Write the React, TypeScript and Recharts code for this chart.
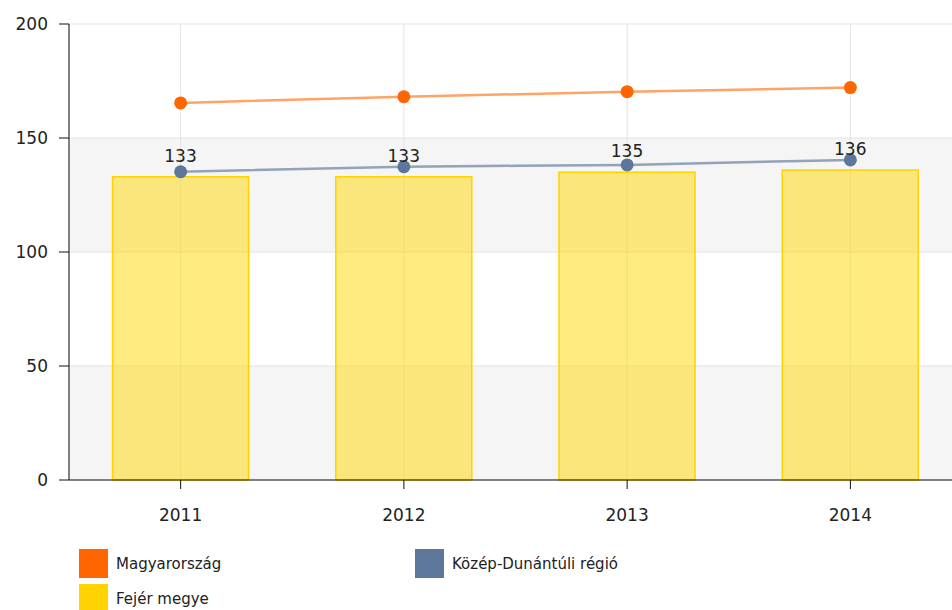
import React from "react";
import {
  ComposedChart,
  Bar,
  Line,
  XAxis,
  YAxis,
  CartesianGrid,
  LabelList,
} from "recharts";

// years on the x axis
const years = ["2011", "2012", "2013", "2014"];

// series values
const magyarorszag = [165.4, 168.1, 170.3, 172.1];
const kozepDunantul = [135.2, 137.4, 138.2, 140.4];
const fejerMegye = [133, 133, 135, 136];

const yTicks = [0, 50, 100, 150, 200];

const data = years.map((year, i) => ({
  year,
  magyarorszag: magyarorszag[i],
  kozep: kozepDunantul[i],
  fejer: fejerMegye[i],
}));

const FONT = "'DejaVu Sans', Verdana, sans-serif";

const legendItems = [
  { name: "Magyarország", color: "#ff6600", left: 79, top: 549 },
  { name: "Közép-Dunántúli régió", color: "#5c7799", left: 415, top: 549 },
  { name: "Fejér megye", color: "#ffd200", left: 79, top: 584 },
];

const ChartLegend = () => (
  <>
    {legendItems.map((item) => (
      <div
        key={item.name}
        style={{
          position: "absolute",
          left: item.left,
          top: item.top,
          display: "flex",
          alignItems: "center",
          fontFamily: FONT,
          fontSize: 15,
          color: "#222",
        }}
      >
        <span
          style={{
            display: "inline-block",
            width: 29,
            height: 29,
            background: item.color,
            marginRight: 8,
          }}
        />
        {item.name}
      </div>
    ))}
  </>
);

export default function App() {
  return (
    <div
      style={{
        position: "absolute",
        left: 0,
        top: 0,
        width: 952,
        height: 610,
        overflow: "hidden",
        background: "#fff",
      }}
    >
      <ComposedChart
        width={962}
        height={530}
        data={data}
        margin={{ top: 24, right: 0, left: 0, bottom: 0 }}
        barCategoryGap="19.5%"
        style={{ fontFamily: FONT }}
      >
        <CartesianGrid
          stroke="#e3e3e3"
          horizontalFill={["#ffffff", "#f5f5f5"]}
        />
        <XAxis
          dataKey="year"
          height={50}
          stroke="#111"
          tickSize={9}
          tickMargin={20}
          tick={{ fill: "#222", fontSize: 17 }}
        />
        <YAxis
          width={69}
          domain={[0, 200]}
          ticks={yTicks}
          stroke="#111"
          tickSize={10}
          tickMargin={11}
          tick={{ fill: "#222", fontSize: 17 }}
        />
        <Bar
          dataKey="fejer"
          name="Fejér megye"
          fill="#ffd700"
          fillOpacity={0.5}
          stroke="#ffd200"
          strokeWidth={1.5}
          isAnimationActive={false}
        >
          <LabelList
            dataKey="fejer"
            position="top"
            offset={15}
            fill="#222"
            fontSize={17}
          />
        </Bar>
        <Line
          type="monotone"
          dataKey="kozep"
          name="Közép-Dunántúli régió"
          stroke="#5c7799"
          strokeOpacity={0.65}
          strokeWidth={2.5}
          dot={{ r: 6.5, fill: "#5c7799", stroke: "none", fillOpacity: 1 }}
          isAnimationActive={false}
        />
        <Line
          type="monotone"
          dataKey="magyarorszag"
          name="Magyarország"
          stroke="#ff6600"
          strokeOpacity={0.6}
          strokeWidth={2.5}
          dot={{ r: 6.5, fill: "#ff6600", stroke: "none", fillOpacity: 1 }}
          isAnimationActive={false}
        />
      </ComposedChart>
      <ChartLegend />
    </div>
  );
}
